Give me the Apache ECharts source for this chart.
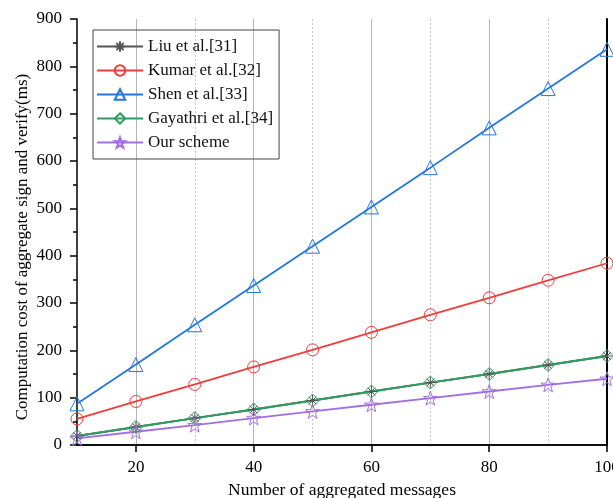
<!DOCTYPE html>
<html>
<head>
<meta charset="utf-8">
<script src="https://cdn.jsdelivr.net/npm/echarts@6/dist/echarts.min.js"></script>
<style>
  html, body { margin: 0; padding: 0; background: #fff; }
  #chart { width: 613px; height: 498px; }
</style>
</head>
<body>
<div id="chart"></div>
<script>
// Coste de firma y verificación agregada frente al número de mensajes
const messages  = [10, 20, 30, 40, 50, 60, 70, 80, 90, 100];
const liu       = [19, 38, 57, 75, 94, 113, 132, 150, 169, 188];
const kumar     = [55, 92, 128, 165, 201, 238, 275, 311, 348, 384];
const shen      = [87, 170, 254, 337, 420, 503, 586, 670, 753, 836];
const gayathri  = [19, 38, 57, 75, 94, 113, 132, 150, 169, 188];
const ourScheme = [14, 28, 42, 57, 71, 85, 99, 113, 127, 140];

const FONT = '"Liberation Serif", "Times New Roman", serif';

const ASTERISK = 'path://M0,5L10,5M5,0L5,10M1.5,1.5L8.5,8.5M8.5,1.5L1.5,8.5';
const STAR = 'path://M5,0L6.18,3.38L9.76,3.45L6.9,5.62L7.94,9.05L5,7L2.06,9.05L3.1,5.62L0.24,3.45L3.82,3.38Z';

function line(name, data, color, symbol, size) {
  return {
    name,
    type: 'line',
    data,
    symbol,
    symbolSize: size,
    showAllSymbol: true,
    lineStyle: { color, width: 1.8 },
    itemStyle: { color: 'rgba(255,255,255,0)', borderColor: color, borderWidth: 1 },
    emphasis: { disabled: true },
  };
}

const chart = echarts.init(document.getElementById('chart'), null, { renderer: 'canvas' });

chart.setOption({
  backgroundColor: '#fff',
  animation: false,
  grid: { left: 77, right: 6, top: 19, bottom: 53, containLabel: false, outerBoundsMode: 'none' },
  legend: {
    left: 93,
    top: 30,
    orient: 'vertical',
    itemWidth: 46,
    itemHeight: 13,
    itemGap: 7,
    padding: [8, 6, 8, 3],
    borderColor: '#444',
    borderWidth: 1,
    textStyle: { fontFamily: FONT, fontSize: 17, color: '#111' },
    data: ['Liu et al.[31]', 'Kumar et al.[32]', 'Shen et al.[33]', 'Gayathri et al.[34]', 'Our scheme'],
  },
  xAxis: [
    {
      type: 'category',
      data: messages,
      boundaryGap: false,
      name: 'Number of aggregated messages',
      nameLocation: 'middle',
      nameGap: 36,
      nameTextStyle: { fontFamily: FONT, fontSize: 17.5, color: '#000' },
      axisLine: { lineStyle: { color: '#000', width: 1.5 } },
      axisTick: { show: true, length: 7, inside: false, interval: (i) => i % 2 === 1, lineStyle: { color: '#000', width: 1.5 } },
      axisLabel: { interval: (i) => i % 2 === 1, margin: 14, fontFamily: FONT, fontSize: 17, color: '#000' },
      splitLine: { show: true, interval: (i) => i % 2 === 1 && i < 9, lineStyle: { color: '#b4b4b4', width: 1, type: 'solid' } },
    },
    {
      type: 'category',
      data: messages,
      boundaryGap: false,
      position: 'top',
      axisLine: { show: true, lineStyle: { color: '#000', width: 1.5 } },
      axisTick: { show: false },
      axisLabel: { show: false },
      splitLine: { show: true, interval: (i) => i % 2 === 0 && i > 0, lineStyle: { color: '#c8c8c8', width: 1, type: [2, 2] } },
    },
  ],
  yAxis: [
    {
      type: 'value',
      min: 0,
      max: 900,
      interval: 100,
      name: 'Computation cost of aggregate sign and verify(ms)',
      nameLocation: 'middle',
      nameGap: 46,
      nameMoveOverlap: false,
      nameTextStyle: { fontFamily: FONT, fontSize: 17, color: '#000', padding: [0, 30, 0, 0] },
      axisLine: { show: true, lineStyle: { color: '#000', width: 1.5 } },
      axisTick: { show: true, length: 7, lineStyle: { color: '#000', width: 1.5 } },
      minorTick: { show: true, splitNumber: 2, length: 4, lineStyle: { color: '#000', width: 1.5 } },
      axisLabel: { margin: 15, fontFamily: FONT, fontSize: 17, color: '#000' },
      splitLine: { show: false },
    },
    {
      type: 'value',
      min: 0,
      max: 900,
      interval: 100,
      position: 'right',
      axisLine: { show: true, lineStyle: { color: '#000', width: 2 } },
      axisTick: { show: false },
      axisLabel: { show: false },
      splitLine: { show: false },
    },
  ],
  series: [
    line('Liu et al.[31]', liu, '#555555', ASTERISK, 11),
    line('Kumar et al.[32]', kumar, '#f23c3c', 'circle', 12),
    line('Shen et al.[33]', shen, '#2277e0', 'triangle', 14),
    line('Gayathri et al.[34]', gayathri, '#2e9e5e', 'diamond', 13),
    line('Our scheme', ourScheme, '#a36ee0', STAR, 14),
  ],
});
</script>
</body>
</html>
